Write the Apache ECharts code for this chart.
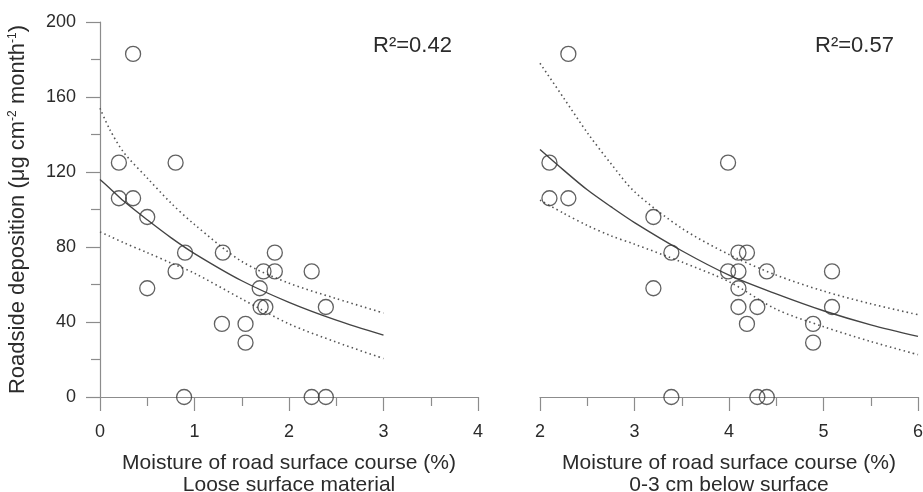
<!DOCTYPE html>
<html>
<head>
<meta charset="utf-8">
<script src="https://cdn.jsdelivr.net/npm/echarts@6/dist/echarts.min.js"></script>
<style>
html,body{margin:0;padding:0;background:#fff;}
#chart{width:923px;height:492px;}
</style>
</head>
<body>
<div id="chart"></div>
<script>
// ---- data ----
const deposition    = [183,125,125,106,106,96,77,77,77,67,67,67,67,58,58,48,48,48,39,39,29,0,0,0];
const leftMoisture  = [0.35,0.2,0.8,0.2,0.35,0.5,0.9,1.3,1.85,0.8,1.73,1.85,2.24,0.5,1.69,1.7,1.75,2.39,1.29,1.54,1.54,0.89,2.24,2.39];
const rightMoisture = [2.3,2.1,3.99,2.1,2.3,3.2,3.39,4.1,4.19,3.99,4.1,4.4,5.09,3.2,4.1,4.1,4.3,5.09,4.19,4.89,4.89,3.39,4.3,4.4];

const leftCurveX  = [0, 0.1, 0.25, 0.5, 0.75, 1.0, 1.5, 2.0, 2.5, 3.0];
const leftFit     = [116, 111.5, 104.5, 94.5, 85, 76.5, 62, 50.5, 41, 33];
const leftUpper   = [154, 143, 130.5, 116.8, 103.5, 92, 72.3, 60.7, 52.5, 44.8];
const leftLower   = [88, 85.8, 82.3, 77, 71.5, 66, 52.3, 39, 29.3, 20.5];

const rightCurveX = [2, 2.25, 2.5, 2.75, 3, 3.5, 4, 4.5, 5, 5.5, 6];
const rightFit    = [132, 121, 110.5, 101.5, 93, 78, 65, 55, 46, 38.5, 32.3];
const rightUpper  = [178, 159.5, 141, 124.5, 109.5, 90, 76, 65, 56.5, 49.7, 43.9];
const rightLower  = [105, 98, 91.5, 86, 81.5, 72, 61.5, 46.8, 37.5, 29.6, 22.6];

const yTicks = [0, 40, 80, 120, 160, 200];
const r2Labels = ['R\u00B2=0.42', 'R\u00B2=0.57'];
const xTitles = ['Moisture of road surface course (%)\nLoose surface material',
                 'Moisture of road surface course (%)\n0-3 cm below surface'];

// ---- helpers ----
function zip(xs, ys){ return xs.map((x,i)=>[x, ys[i]]); }

const FONT = 'Liberation Sans, Arial, sans-serif';
const AXIS = '#8c8c8c';
const TXT = '#2b2b2b';

function xAxisCfg(idx, min, max){
  return {
    type:'value', gridIndex: idx, min:min, max:max, interval:1,
    name: xTitles[idx], nameLocation:'middle', nameGap: 55,
    nameTextStyle:{fontSize:21, fontFamily:FONT, color:TXT, lineHeight:22},
    axisLine:{show:true, lineStyle:{color:AXIS, width:1.2}},
    axisTick:{show:true, inside:false, length:14, lineStyle:{color:AXIS, width:1.2}},
    minorTick:{show:true, splitNumber:2, length:9, lineStyle:{color:AXIS, width:1.2}},
    splitLine:{show:false},
    axisLabel:{fontSize:18, fontFamily:FONT, color:TXT, margin:26}
  };
}

function circleSeries(idx, xs){
  return {
    type:'scatter', xAxisIndex:idx, yAxisIndex:idx,
    data: zip(xs, deposition), symbol:'circle', symbolSize:15,
    itemStyle:{color:'rgba(0,0,0,0)', borderColor:'#3a3a3a', borderWidth:1.3},
    z:5, silent:true
  };
}
function lineSeries(idx, xs, ys, dotted){
  return {
    type:'line', xAxisIndex:idx, yAxisIndex:idx, data: zip(xs, ys),
    smooth:0.3, showSymbol:false, symbol:'none', silent:true,
    lineStyle: dotted ? {color:'#555', width:1.6, type:[1.5,3.2]} : {color:'#444', width:1.4}
  };
}

const chart = echarts.init(document.getElementById('chart'), null, {renderer:'canvas'});
chart.setOption({
  animation:false,
  backgroundColor:'#fff',
  grid:[
    {left:100, top:22, width:378, height:375, containLabel:false, outerBoundsMode:'none'},
    {left:540, top:22, width:378, height:375, containLabel:false, outerBoundsMode:'none'}
  ],
  xAxis:[ xAxisCfg(0, 0, 4), xAxisCfg(1, 2, 6) ],
  yAxis:[
    {
      type:'value', gridIndex:0, min:yTicks[0], max:yTicks[yTicks.length-1], interval:40,
      name:'Roadside deposition (\u03BCg cm{sup|-2} month{sup|-1})',
      nameLocation:'middle', nameGap:71,
      nameTextStyle:{fontSize:22, fontFamily:FONT, color:TXT,
        rich:{sup:{fontSize:12, fontFamily:FONT, color:TXT, verticalAlign:'top', lineHeight:22}}},
      axisLine:{show:true, lineStyle:{color:AXIS, width:1.2}},
      axisTick:{show:true, inside:false, length:14, lineStyle:{color:AXIS, width:1.2}},
      minorTick:{show:true, splitNumber:2, length:9, lineStyle:{color:AXIS, width:1.2}},
      splitLine:{show:false},
      axisLabel:{fontSize:18, fontFamily:FONT, color:TXT, margin:24}
    },
    {
      type:'value', gridIndex:1, min:yTicks[0], max:yTicks[yTicks.length-1], interval:40,
      show:false, splitLine:{show:false}
    }
  ],
  graphic:[
    {type:'text', x:373, y:46, style:{text:r2Labels[0], fontSize:22, fontFamily:FONT, fill:TXT, textVerticalAlign:'middle'}},
    {type:'text', x:815, y:46, style:{text:r2Labels[1], fontSize:22, fontFamily:FONT, fill:TXT, textVerticalAlign:'middle'}}
  ],
  series:[
    lineSeries(0, leftCurveX, leftUpper, true),
    lineSeries(0, leftCurveX, leftLower, true),
    lineSeries(0, leftCurveX, leftFit, false),
    circleSeries(0, leftMoisture),
    lineSeries(1, rightCurveX, rightUpper, true),
    lineSeries(1, rightCurveX, rightLower, true),
    lineSeries(1, rightCurveX, rightFit, false),
    circleSeries(1, rightMoisture)
  ]
});
</script>
</body>
</html>
